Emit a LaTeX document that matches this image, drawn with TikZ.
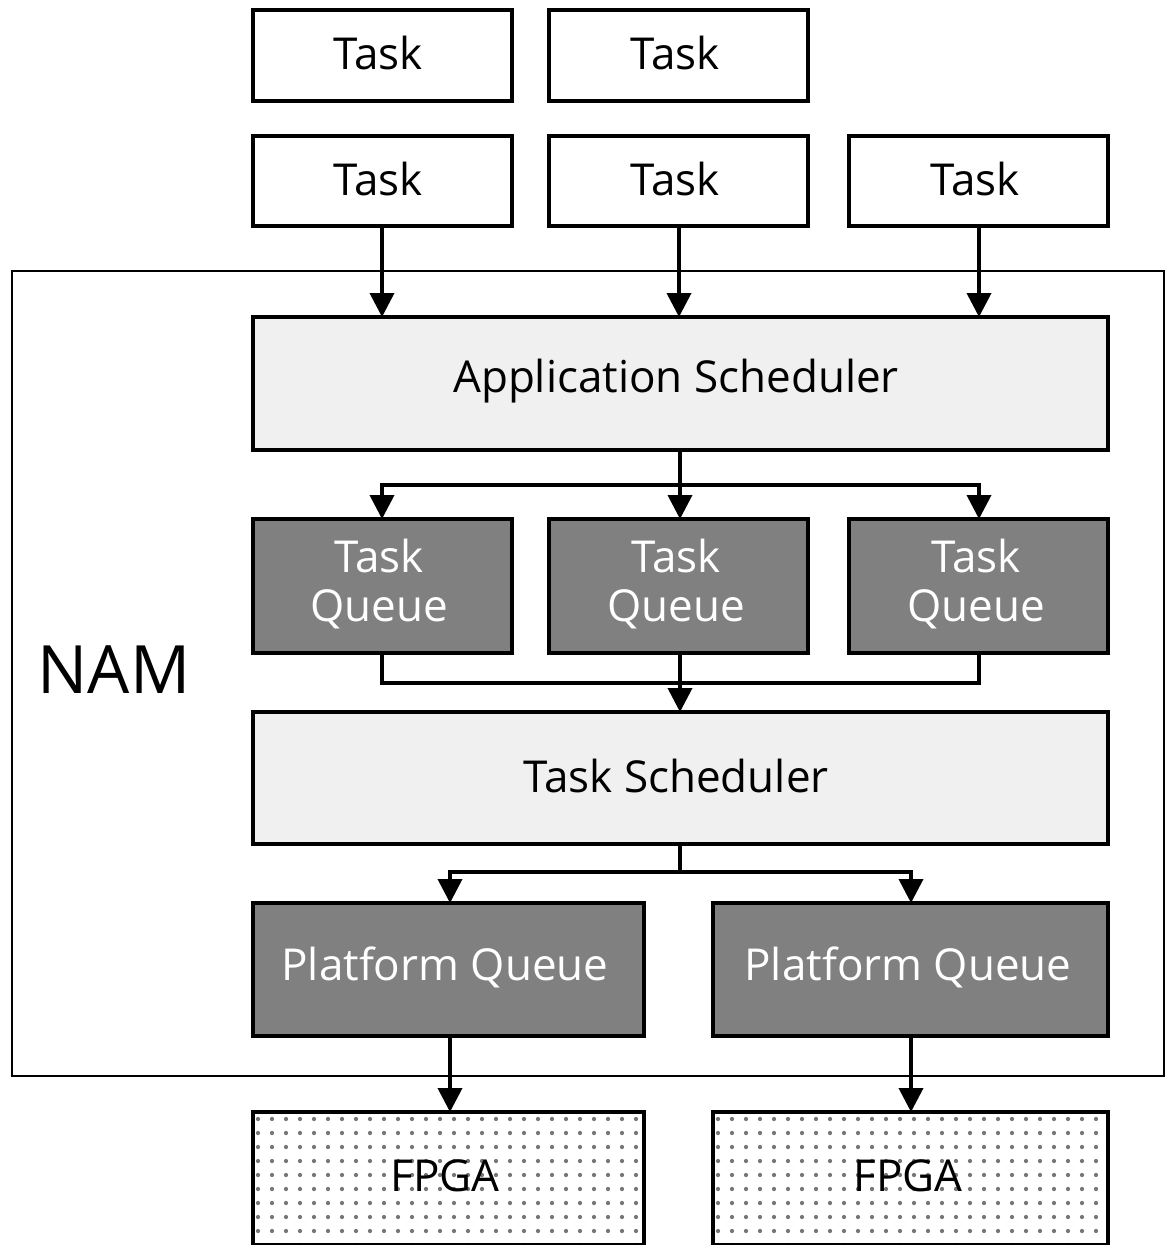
\documentclass[tikz,border=0pt]{standalone}
\usepackage{fontspec}
\setmainfont{Open Sans}
\usetikzlibrary{arrows.meta}
\definecolor{lightbox}{HTML}{F0F0F0}
\definecolor{darkbox}{HTML}{808080}
\definecolor{dotcol}{HTML}{777777}
\begin{document}
\begin{tikzpicture}[x=0.75pt,y=-0.75pt,
  box/.style={draw=black,line width=2.6pt,inner sep=0pt},
  taskbox/.style={box,fill=white},
  lightnode/.style={box,fill=lightbox},
  darknode/.style={box,fill=darkbox,text=white},
  lbl/.style={font=\fontsize{33}{37}\selectfont,align=center},
  arr/.style={line width=2.8pt,-{Triangle[width=18pt,length=18pt]}},
  ln/.style={line width=2.8pt},
]
\useasboundingbox (0,0) rectangle (1165,1245);
% NAM frame
\draw[line width=2pt] (12,271) rectangle (1164,1076);
\node[font=\fontsize{50}{56}\selectfont] (nam) at (114,670) {NAM};

% tasks
\draw[taskbox] (253,10) rectangle (512,101);
\node[lbl] (t1) at (378,53) {Task};
\draw[taskbox] (549,10) rectangle (808,101);
\node[lbl] (t2) at (675,53) {Task};
\draw[taskbox] (253,136) rectangle (512,226);
\node[lbl] (t3) at (378,179) {Task};
\draw[taskbox] (549,136) rectangle (808,226);
\node[lbl] (t4) at (675,179) {Task};
\draw[taskbox] (849,136) rectangle (1108,226);
\node[lbl] (t5) at (975,179) {Task};
\coordinate (t3b) at (382,226);
\coordinate (t4b) at (679,226);
\coordinate (t5b) at (979,226);

% application scheduler
\draw[lightnode] (253,317) rectangle (1108,450);
\node[lbl] (app) at (676,381) {Application Scheduler};
\coordinate (appb) at (680,450);

% task queues
\draw[darknode] (253,519) rectangle (512,653);
\node[lbl,text=white] (q1) at (379,584) {Task\\Queue};
\draw[darknode] (549,519) rectangle (808,653);
\node[lbl,text=white] (q2) at (676,584) {Task\\Queue};
\draw[darknode] (849,519) rectangle (1108,653);
\node[lbl,text=white] (q3) at (976,584) {Task\\Queue};

% task scheduler
\draw[lightnode] (253,712) rectangle (1108,844);
\node[lbl] (ts) at (676,776) {Task Scheduler};

% platform queues
\draw[darknode] (253,903) rectangle (644,1036);
\node[lbl,text=white] (p1) at (445,967) {Platform Queue};
\draw[darknode] (713,903) rectangle (1108,1036);
\node[lbl,text=white] (p2) at (908,967) {Platform Queue};

% FPGAs
\foreach \xa/\xb/\nm in {253/644/f1,713/1108/f2}{
  \begin{scope}
    \clip (\xa,1112) rectangle (\xb,1245);
    \fill[white] (\xa,1112) rectangle (\xb,1245);
    \foreach \i in {0,...,30}{
      \foreach \j in {0,...,9}{
        \fill[dotcol] (\xa+5+\i*14,1119+\j*14) circle (1.6pt);
      }
    }
  \end{scope}
  \draw[box] (\xa,1112) rectangle (\xb,1245);
}
\node[lbl] (f1) at (445,1176) {FPGA};
\node[lbl] (f2) at (908,1176) {FPGA};

% arrows tasks -> app scheduler
\draw[arr] (t3b) -- (382,317);
\draw[arr] (t4b) -- (679,317);
\draw[arr] (t5b) -- (979,317);

% app scheduler -> queues
\draw[ln] (appb) -- (680,485);
\draw[arr] (680,485) -| (382,519);
\draw[arr] (680,485) -| (979,519);
\draw[arr] (680,485) -- (680,519);

% queues -> task scheduler
\draw[ln] (382,653) |- (680,683);
\draw[ln] (979,653) |- (680,683);
\draw[arr] (680,653) -- (680,712);

% task scheduler -> platform queues
\draw[ln] (680,844) -- (680,872);
\draw[arr] (680,872) -| (450,903);
\draw[arr] (680,872) -| (911,903);

% platform queues -> FPGA
\draw[arr] (450,1036) -- (450,1112);
\draw[arr] (911,1036) -- (911,1112);
\end{tikzpicture}
\end{document}
